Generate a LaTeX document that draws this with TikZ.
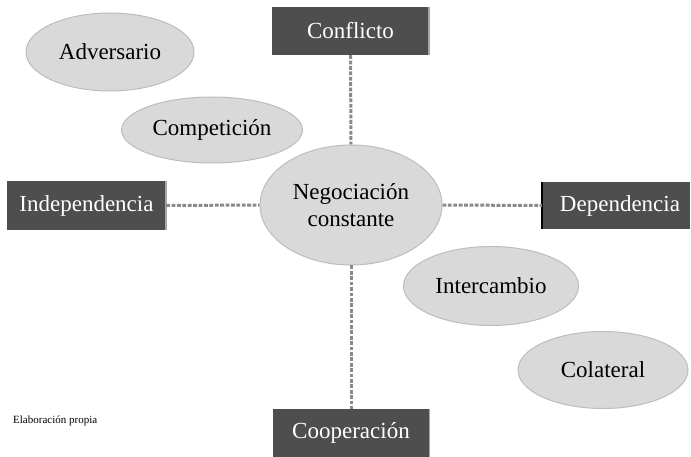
\documentclass[tikz,border=0pt]{standalone}
\usepackage{fontspec}
\setmainfont{Liberation Serif}
\newfontfamily\timesfam{Liberation Serif}
\usetikzlibrary{shapes.geometric}
\definecolor{boxgray}{HTML}{4E4E4E}
\definecolor{ellfill}{HTML}{D9D9D9}
\definecolor{elldraw}{HTML}{BDBDBD}
\definecolor{dotgray}{HTML}{8A8A8A}
\definecolor{edgegray}{HTML}{A6A6A6}
\begin{document}
\begin{tikzpicture}[x=1pt,y=-1pt,
  dimbox/.style={rectangle, fill=boxgray, text=white, inner sep=0pt,
    font=\timesfam\fontsize{23}{27}\selectfont},
  oval/.style={ellipse, fill=ellfill, draw=elldraw, line width=1pt, inner sep=0pt,
    font=\timesfam\fontsize{23}{27}\selectfont, align=center},
  dotline/.style={draw=dotgray, line width=3pt, dash pattern=on 3.8pt off 1.6pt},
  rimlight/.style={draw=edgegray, line width=1.5pt},
  rimdark/.style={draw=black, line width=2pt}]
\useasboundingbox (0,0) rectangle (691,457);
\fill[white] (0,0) rectangle (691,457);

\node[dimbox, minimum width=157pt, minimum height=48pt] (conf) at (350.5,31) {Conflicto};
\node[dimbox, minimum width=157pt, minimum height=48pt] (coop) at (351,433) {Cooperación};
\node[dimbox, minimum width=159pt, minimum height=49pt] (indep) at (86.5,205.5) {Independencia};
\node[dimbox, minimum width=148pt, minimum height=47pt, text width=148pt, align=center] (dep) at (616,205.5) {\hspace*{8pt}Dependencia};

\draw[rimlight] (conf.north east) -- (conf.south east);
\draw[rimlight] (coop.north east) -- (coop.south east);
\draw[rimlight] (indep.north east) -- (indep.south east);
\draw[rimdark] (dep.north west) -- (dep.south west);

\node[oval, minimum width=182pt, minimum height=120pt] (neg) at (351,205) {Negociación\\constante};
\node[oval, minimum width=168pt, minimum height=78pt] (adv) at (110,52) {Adversario};
\node[oval, minimum width=181pt, minimum height=66pt] (comp) at (212,130) {Competición};
\node[oval, minimum width=175pt, minimum height=79pt] (inter) at (491,286) {Intercambio};
\node[oval, minimum width=170pt, minimum height=77pt] (col) at (603,370) {Colateral};

\draw[dotline] (conf.south) -- (neg.north);
\draw[dotline] (neg.south) -- (coop.north);
\draw[dotline] (indep.east) -- (neg.west);
\draw[dotline] (neg.east) -- (dep.west);

\node[anchor=west, inner sep=0pt, font=\timesfam\fontsize{11}{13}\selectfont] (src) at (13,421) {Elaboración propia};
\end{tikzpicture}
\end{document}
